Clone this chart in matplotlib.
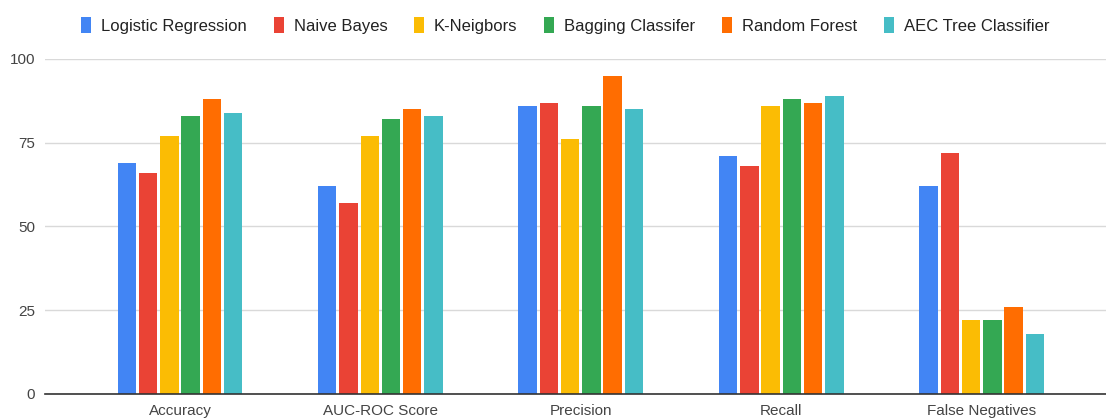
#!/usr/bin/env python3
import matplotlib
matplotlib.use("Agg")
import matplotlib.pyplot as plt
import numpy as np

# Metrics per classifier (percent)
metrics = ["Accuracy", "AUC-ROC Score", "Precision", "Recall", "False Negatives"]
models = ["Logistic Regression", "Naive Bayes", "K-Neigbors",
          "Bagging Classifer", "Random Forest", "AEC Tree Classifier"]
logistic = [69, 62, 86, 71, 62]
naive_bayes = [66, 57, 87, 68, 72]
k_neighbors = [77, 77, 76, 86, 22]
bagging = [83, 82, 86, 88, 22]
random_forest = [88, 85, 95, 87, 26]
aec_tree = [84, 83, 85, 89, 18]
y_ticks = [0, 25, 50, 75, 100]

colors = ["#4285F4", "#EA4335", "#FBBC04", "#34A853", "#FF6D01", "#46BDC6"]


def main() -> None:
    plt.rcParams["font.family"] = ["Liberation Sans", "DejaVu Sans"]
    fig = plt.figure(figsize=(11.06, 4.19), dpi=100)
    ax = fig.add_axes([0.0407, 0.0597, 0.9593, 0.7995])

    series = [logistic, naive_bayes, k_neighbors, bagging, random_forest, aec_tree]
    x = np.arange(len(metrics))
    pitch = 0.106
    width = 0.092
    for i, (name, vals) in enumerate(zip(models, series)):
        offset = (i - (len(series) - 1) / 2) * pitch
        ax.bar(x + offset, vals, width, color=colors[i], label=name,
               zorder=3, linewidth=0)

    ax.set_xlim(-0.673, 4.62)
    ax.set_ylim(0, 100)
    ax.set_yticks(y_ticks)
    ax.set_xticks(x)
    ax.set_xticklabels(metrics)
    ax.tick_params(axis="both", length=0, labelsize=11, colors="#444444")
    ax.tick_params(axis="y", pad=7)
    ax.tick_params(axis="x", pad=7)

    ax.grid(axis="y", color="#d9d9d9", linewidth=1.0, zorder=0)
    for side in ["top", "right", "left"]:
        ax.spines[side].set_visible(False)
    ax.spines["bottom"].set_color("#333333")
    ax.spines["bottom"].set_linewidth(1.2)
    ax.spines["bottom"].set_zorder(4)

    fig.legend(loc="upper center", bbox_to_anchor=(0.511, 0.995), ncol=6,
               frameon=False, fontsize=12, handlelength=0.6,
               handleheight=1.1, handletextpad=0.6, columnspacing=1.6,
               labelcolor="#222222")

    fig.savefig("out.png", dpi=100, facecolor="white")


if __name__ == "__main__":
    main()
